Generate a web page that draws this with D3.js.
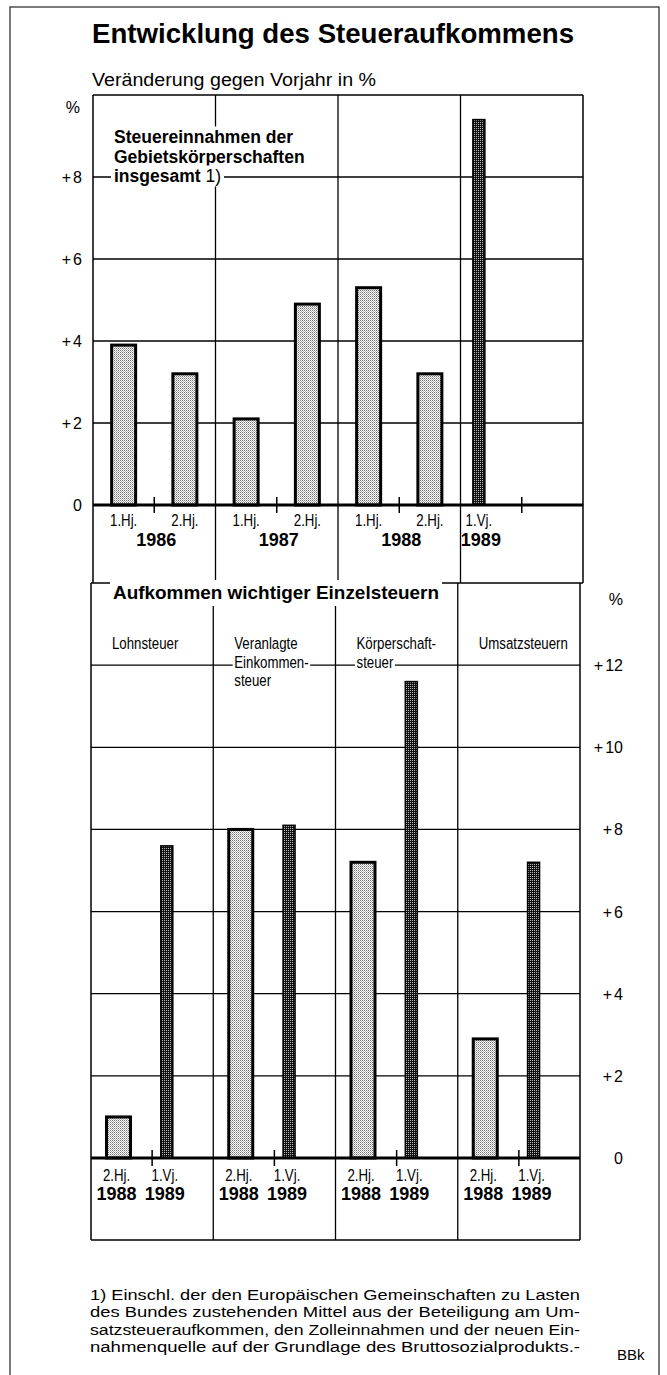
<!DOCTYPE html>
<html>
<head>
<meta charset="utf-8">
<script src="https://cdn.jsdelivr.net/npm/d3@7"></script>
<style>
  body { margin: 0; background: #fff; }
</style>
</head>
<body>
<script>
// --- data ---
var topYears = [1986, 1986, 1987, 1987, 1988, 1988, 1989];
var topPeriods = ["1.Hj.", "2.Hj.", "1.Hj.", "2.Hj.", "1.Hj.", "2.Hj.", "1.Vj."];
var topValues = [3.9, 3.2, 2.1, 4.9, 5.3, 3.2, 9.4];
var topTicks = [0, 2, 4, 6, 8];

var taxNames = ["Lohnsteuer", "Veranlagte Einkommensteuer", "Körperschaftsteuer", "Umsatzsteuern"];
var taxLabels = [["Lohnsteuer"], ["Veranlagte", "Einkommen-", "steuer"], ["Körperschaft-", "steuer"], ["Umsatzsteuern"]];
var taxPeriods = ["2.Hj. 1988", "1.Vj. 1989"];
var taxH2_1988 = [1.0, 8.0, 7.2, 2.9];
var taxQ1_1989 = [7.6, 8.1, 11.6, 7.2];
var bottomTicks = [0, 2, 4, 6, 8, 10, 12];

var footnote = [
  "1) Einschl. der den Europäischen Gemeinschaften zu Lasten",
  "des Bundes zustehenden Mittel aus der Beteiligung am Um-",
  "satzsteueraufkommen, den Zolleinnahmen und der neuen Ein-",
  "nahmenquelle auf der Grundlage des Bruttosozialprodukts.-"
];

// --- setup ---
var W = 667, H = 1375;
var fontReg = "'Liberation Sans', Arial, Helvetica, sans-serif";
var NARROW = 0.78;   // condensed labels, squeezed horizontally

var svg = d3.select("body").append("svg")
    .attr("width", W)
    .attr("height", H);

var defs = svg.append("defs");
var pl = defs.append("pattern").attr("id", "light")
    .attr("width", 2).attr("height", 2).attr("patternUnits", "userSpaceOnUse");
pl.append("rect").attr("width", 2).attr("height", 2).attr("fill", "#fff");
pl.append("rect").attr("width", 1).attr("height", 1).attr("fill", "#707070");
pl.append("rect").attr("x", 1).attr("y", 1).attr("width", 1).attr("height", 1).attr("fill", "#b0b0b0");

var pd = defs.append("pattern").attr("id", "dark")
    .attr("width", 2).attr("height", 2).attr("patternUnits", "userSpaceOnUse");
pd.append("rect").attr("width", 2).attr("height", 2).attr("fill", "#111");
pd.append("rect").attr("width", 1).attr("height", 1).attr("fill", "#bbb");

// outer border
svg.append("rect")
    .attr("x", 10).attr("y", 7)
    .attr("width", 649).attr("height", H + 20)
    .attr("fill", "none").attr("stroke", "#222").attr("stroke-width", 1.2);

svg.append("text")
    .attr("x", 92).attr("y", 43)
    .attr("font-family", fontReg).attr("font-weight", "bold").attr("font-size", 27.5)
    .attr("textLength", 482).attr("lengthAdjust", "spacingAndGlyphs")
    .text("Entwicklung des Steueraufkommens");

svg.append("text")
    .attr("x", 92).attr("y", 86)
    .attr("font-family", fontReg).attr("font-size", 17.5)
    .attr("textLength", 284).attr("lengthAdjust", "spacingAndGlyphs")
    .text("Veränderung gegen Vorjahr in %");

function hline(g, y, x1, x2, w) {
  g.append("line").attr("x1", x1).attr("x2", x2).attr("y1", y).attr("y2", y)
    .attr("stroke", "#000").attr("stroke-width", w);
}
function vline(g, x, y1, y2, w) {
  g.append("line").attr("x1", x).attr("x2", x).attr("y1", y1).attr("y2", y2)
    .attr("stroke", "#000").attr("stroke-width", w);
}
// white box behind a text so grid lines are broken there
function halo(textSel, padX, padY) {
  textSel.each(function() {
    var node = this, b = node.getBBox();
    d3.select(node.parentNode).insert("rect", function() { return node; })
      .attr("x", b.x - padX).attr("y", b.y - padY)
      .attr("width", b.width + 2 * padX).attr("height", b.height + 2 * padY)
      .attr("fill", "#fff");
  });
}
// condensed text: its own group, squeezed around the anchor point
function narrowText(g, x, y, str, anchor, size) {
  var gg = g.append("g").attr("transform", "translate(" + x + "," + y + ") scale(" + NARROW + ",1)");
  return gg.append("text")
    .attr("font-family", fontReg).attr("font-size", size || 17)
    .attr("text-anchor", anchor || "start")
    .text(str);
}
function tickLabel(sel) {
  sel.each(function(d) {
    var t = d3.select(this);
    if (d === 0) { t.text("0"); return; }
    t.append("tspan").text("+");
    t.append("tspan").attr("dx", 2).text(d);
  });
}

// ================= top chart =================
var L = 93, R = 583;
var xT = d3.scaleLinear().domain([1986, 1990]).range([L, R]);
var yT = d3.scaleLinear().domain([0, 10]).range([505, 95]);
var topBottom = 583;
var periodOffset = { "1.Hj.": 0.25, "2.Hj.": 0.75, "1.Vj.": 0.15 };
var topData = topValues.map(function(v, i) {
  return { year: topYears[i], period: topPeriods[i], value: v, t: topYears[i] + periodOffset[topPeriods[i]] };
});
var years = Array.from(new Set(topYears));

var gT = svg.append("g");
topTicks.filter(function(v) { return v > 0; }).forEach(function(v) {
  hline(gT, yT(v), L, R, 1.3);
});
hline(gT, yT(10), L, R, 1.5);
vline(gT, L, yT(10), topBottom, 1.5);
vline(gT, R, yT(10), topBottom, 1.5);
[1987, 1988, 1989].forEach(function(y) { vline(gT, xT(y), yT(10), topBottom, 1.3); });

// label block
var lblT = gT.append("g")
    .attr("font-family", fontReg).attr("font-weight", "bold").attr("font-size", 17.5);
var lblLines = ["Steuereinnahmen der", "Gebietskörperschaften", "insgesamt"];
var lt = lblT.selectAll("text").data(lblLines).enter().append("text")
    .attr("x", 114)
    .attr("y", function(d, i) { return 143 + i * 19.5; })
    .text(function(d) { return d; });
lt.filter(function(d, i) { return i === 2; })
  .append("tspan").attr("font-weight", "normal").text(" 1)");
halo(lt, 3, 0.5);

// tick labels
var tkT = gT.append("g").attr("font-family", fontReg).attr("font-size", 16).attr("text-anchor", "end");
tkT.selectAll("text").data(topTicks).enter().append("text")
    .attr("x", 82).attr("y", function(d) { return yT(d) + 6; })
    .call(tickLabel);
tkT.append("text").attr("x", 80).attr("y", yT(9.7) + 6).text("%");

// bars
gT.selectAll("rect.bar").data(topData).enter().append("rect")
    .attr("class", "bar")
    .attr("x", function(d) { return xT(d.t) - (d.period === "1.Vj." ? 6 : 12); })
    .attr("y", function(d) { return yT(d.value); })
    .attr("width", function(d) { return d.period === "1.Vj." ? 12 : 24; })
    .attr("height", function(d) { return yT(0) - yT(d.value); })
    .attr("fill", function(d) { return d.period === "1.Vj." ? "url(#dark)" : "url(#light)"; })
    .attr("stroke", "#000")
    .attr("stroke-width", function(d) { return d.period === "1.Vj." ? 1.5 : 3; });

hline(gT, yT(0), L, R, 3);
years.forEach(function(y) { vline(gT, xT(y + 0.5), yT(0) - 8, yT(0) + 8, 1.5); });

topData.forEach(function(d) { narrowText(gT, xT(d.t), 526, d.period, "middle"); });

gT.append("g").attr("font-family", fontReg).attr("font-weight", "bold").attr("font-size", 18).attr("text-anchor", "middle")
  .selectAll("text").data(years).enter().append("text")
    .attr("x", function(y) {
      return xT(d3.mean(topData.filter(function(d) { return d.year === y; }), function(d) { return d.t; })) + 2;
    })
    .attr("y", 546)
    .text(function(y) { return y; });

// ================= bottom chart =================
var LB = 91, RB = 580;
var yB = d3.scaleLinear().domain([0, 14]).range([1158, 583]);
var bBottom = 1240;
var colB = d3.scaleBand().domain(taxNames).range([LB, RB]);
var inner = d3.scaleBand().domain(taxPeriods).range([0, colB.bandwidth()])
    .paddingInner(0.45).paddingOuter(0.49).align(0.3);

var bData = [];
taxNames.forEach(function(n, i) {
  bData.push({ tax: n, period: taxPeriods[0], value: taxH2_1988[i], dark: false });
  bData.push({ tax: n, period: taxPeriods[1], value: taxQ1_1989[i], dark: true });
});
function cx(d) { return colB(d.tax) + inner(d.period) + inner.bandwidth() / 2; }

var gB = svg.append("g");
bottomTicks.filter(function(v) { return v > 0; }).forEach(function(v) {
  hline(gB, yB(v), LB, RB, 1.3);
});
vline(gB, LB, yB(14), bBottom, 1.5);
vline(gB, RB, yB(14), bBottom, 1.5);
hline(gB, bBottom, LB, RB, 1.5);
taxNames.slice(1).forEach(function(n) { vline(gB, colB(n), yB(14), bBottom, 1.3); });
hline(gB, yB(14), LB, R, 1.5);

var hdr = gB.append("text")
    .attr("x", 113).attr("y", 599)
    .attr("font-family", fontReg).attr("font-weight", "bold").attr("font-size", 18)
    .attr("textLength", 326).attr("lengthAdjust", "spacingAndGlyphs")
    .text("Aufkommen wichtiger Einzelsteuern");
halo(hdr, 3, 3);

// tax column headers
taxLabels.forEach(function(lines, i) {
  lines.forEach(function(s, j) {
    var t = narrowText(gB, colB(taxNames[i]) + 21, 649 + j * 18.5, s, "start");
    halo(t, 2, 0);
  });
});

// right axis labels
var tkB = gB.append("g").attr("font-family", fontReg).attr("font-size", 16).attr("text-anchor", "end");
tkB.selectAll("text").data(bottomTicks).enter().append("text")
    .attr("x", 623).attr("y", function(d) { return yB(d) + 6; })
    .call(tickLabel);
tkB.append("text").attr("x", 623).attr("y", yB(13.6) + 6).text("%");

gB.selectAll("rect.bar").data(bData).enter().append("rect")
    .attr("class", "bar")
    .attr("x", function(d) { return cx(d) - (d.dark ? 6 : 12); })
    .attr("y", function(d) { return yB(d.value); })
    .attr("width", function(d) { return d.dark ? 12 : 24; })
    .attr("height", function(d) { return yB(0) - yB(d.value); })
    .attr("fill", function(d) { return d.dark ? "url(#dark)" : "url(#light)"; })
    .attr("stroke", "#000")
    .attr("stroke-width", function(d) { return d.dark ? 1.5 : 3; });

hline(gB, yB(0), LB, RB, 3);
taxNames.forEach(function(n) {
  var x = colB(n) + colB.bandwidth() / 2;
  vline(gB, x, yB(0) - 8, yB(0) + 8, 1.5);
});

bData.forEach(function(d) { narrowText(gB, cx(d) - 2, 1181, d.period.split(" ")[0], "middle"); });
gB.append("g").attr("font-family", fontReg).attr("font-weight", "bold").attr("font-size", 18).attr("text-anchor", "middle")
  .selectAll("text").data(bData).enter().append("text")
    .attr("x", function(d) { return cx(d) - 2; }).attr("y", 1200)
    .text(function(d) { return d.period.split(" ")[1]; });

// footnote
svg.append("g").attr("font-family", fontReg).attr("font-size", 15.5)
  .selectAll("text").data(footnote).enter().append("text")
    .attr("x", 90)
    .attr("y", function(d, i) { return 1300 + i * 17.4; })
    .attr("textLength", 490).attr("lengthAdjust", "spacingAndGlyphs")
    .text(function(d) { return d; });

svg.append("text")
    .attr("x", 617).attr("y", 1360)
    .attr("font-family", fontReg).attr("font-size", 15)
    .text("BBk");
</script>
</body>
</html>
